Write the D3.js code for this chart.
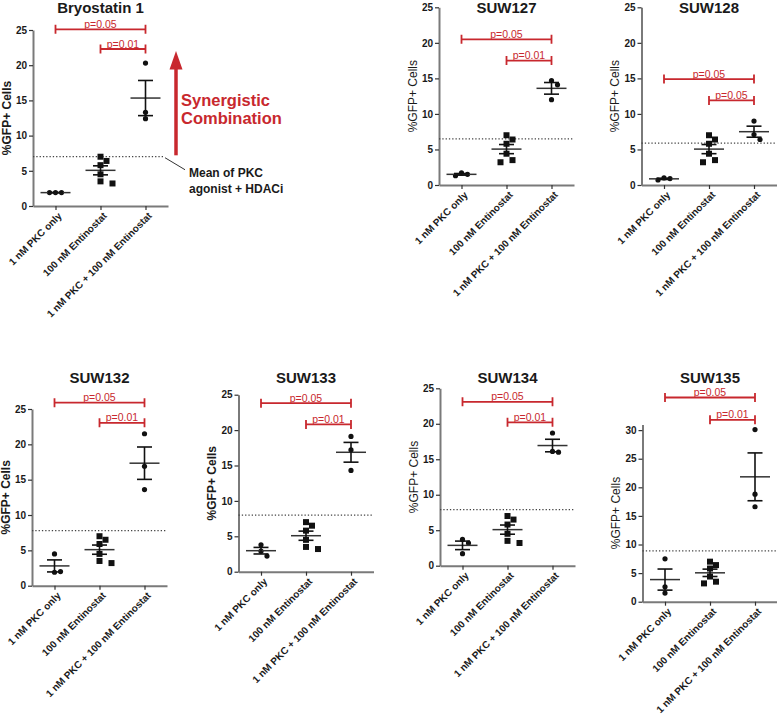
<!DOCTYPE html>
<html>
<head>
<meta charset="utf-8">
<script src="https://cdn.jsdelivr.net/npm/d3@7"></script>
<style>
  body { margin: 0; background: #fff; }
  svg { display: block; font-family: "Liberation Sans", Arial, sans-serif; }
</style>
</head>
<body>
<div id="chart"></div>
<script>
// ---- data ----
var panelNames = ["Bryostatin 1", "SUW127", "SUW128", "SUW132", "SUW133", "SUW134", "SUW135"];
var categories = ["1 nM PKC only", "100 nM Entinostat", "1 nM PKC + 100 nM Entinostat"];

var pkcOnly = [
    [1.9, 1.9, 1.9],
    [1.7, 1.5, 1.3],
    [1.0, 0.9, 0.7],
    [4.5, 1.9, 2.0],
    [3.8, 2.9, 2.2],
    [3.7, 3.2, 1.7],
    [7.5, 2.6, 1.5]
];
var entinostat = [
    [7.0, 6.4, 5.8, 4.5, 3.5, 3.2],
    [7.0, 6.4, 5.8, 4.4, 3.5, 3.2],
    [7.0, 6.4, 5.8, 4.4, 3.5, 3.2],
    [7.0, 6.5, 5.9, 4.5, 3.5, 3.2],
    [7.0, 6.5, 5.8, 4.5, 3.5, 3.2],
    [7.0, 6.5, 5.8, 4.5, 3.5, 3.2],
    [7.0, 6.4, 5.8, 4.4, 3.5, 3.2]
];
var combo = [
    [20.3, 13.3, 12.4],
    [14.7, 14.1, 12.0],
    [9.0, 7.1, 6.4],
    [21.5, 16.9, 13.6],
    [19.1, 17.2, 14.3],
    [18.7, 16.1, 16.0],
    [30.1, 18.8, 16.6]
];
var additiveMean = [7.0, 6.5, 5.9, 7.8, 8.0, 7.9, 8.9];
var pLabels = [
    ["p=0.05", "p=0.01"],
    ["p=0.05", "p=0.01"],
    ["p=0.05", "p=0.05"],
    ["p=0.05", "p=0.01"],
    ["p=0.05", "p=0.01"],
    ["p=0.05", "p=0.01"],
    ["p=0.05", "p=0.01"]
];
var yMax = [25, 25, 25, 25, 25, 25, 31];
var yTicks = [0, 5, 10, 15, 20, 25];
var yTicksWide = [0, 5, 10, 15, 20, 25, 30];

// ---- layout ----
var w = 777;
var h = 716;
var red = "#c8282e";
var plotW = 135;

// axis x, pixel of zero, pixel of top of axis
var frames = [
    {x: 33, bottom: 206, top: 30, titleY: 12.5},
    {x: 439, bottom: 185, top: 7.3, titleY: 12.5},
    {x: 641.5, bottom: 185, top: 7.3, titleY: 12.5},
    {x: 32, bottom: 585.7, top: 409, titleY: 382.5},
    {x: 238.5, bottom: 571.7, top: 394.7, titleY: 382.5},
    {x: 440, bottom: 565.7, top: 388.3, titleY: 382.5},
    {x: 642.5, bottom: 601.7, top: 424.4, titleY: 382.5}
];
// bracket heights, in data units
var bracketAt = [
    [25.1, 22.3], [20.5, 17.5], [14.9, 11.9], [25.9, 23.05],
    [23.8, 20.8], [23.1, 20.2], [35.7, 31.8]
];
var boldLabel = [true, false, false, true, true, false, false];

var svg = d3.select("#chart")
    .append("svg")
    .attr("width", w)
    .attr("height", h);

// spread points that would overlap, like a small beeswarm
function swarm(vals, y, minD, step) {
    var placed = [];
    return vals.map(function (v) {
        var py = y(v);
        var cands = [0];
        for (var j = 1; j < 10; j++) { cands.push(j * step, -j * step); }
        var off = 0;
        for (var k = 0; k < cands.length; k++) {
            var c = cands[k];
            var ok = placed.every(function (p) { return Math.hypot(p.x - c, p.y - py) >= minD; });
            if (ok) { off = c; break; }
        }
        placed.push({x: off, y: py});
        return off;
    });
}

panelNames.forEach(function (name, i) {
    var f = frames[i];
    var g = svg.append("g");

    var y = d3.scaleLinear().domain([0, yMax[i]]).range([f.bottom, f.top]);
    var x = d3.scalePoint().domain(categories).range([f.x, f.x + plotW]).padding(0.5);

    // y axis
    var yg = g.append("g")
        .attr("transform", "translate(" + f.x + ",0)")
        .call(d3.axisLeft(y).tickValues(i === 6 ? yTicksWide : yTicks).tickSize(4).tickSizeOuter(0).tickPadding(2));
    // x axis
    var xg = g.append("g")
        .attr("transform", "translate(0," + f.bottom + ")")
        .call(d3.axisBottom(x).tickSize(4).tickSizeOuter(0));

    [yg, xg].forEach(function (ax) {
        ax.select(".domain").attr("stroke", "#7a7a7a").attr("stroke-width", 2);
        ax.selectAll(".tick line").attr("stroke", "#333").attr("stroke-width", 1.2);
        ax.selectAll("text")
            .attr("fill", "#1a1a1a")
            .attr("font-size", "10px")
            .attr("font-weight", "bold")
            .attr("font-family", "'Liberation Sans', Arial, sans-serif");
    });
    xg.selectAll("text")
        .attr("x", 0)
        .attr("y", 0)
        .attr("dy", "0.35em")
        .attr("font-size", "10px")
        .attr("text-anchor", "end")
        .attr("transform", "translate(4,8) rotate(-45)");

    // title
    g.append("text")
        .text(name)
        .attr("x", f.x + plotW / 2)
        .attr("y", f.titleY)
        .attr("text-anchor", "middle")
        .attr("font-size", "15px")
        .attr("font-weight", "bold")
        .attr("fill", "#1a1a1a");

    // y label
    g.append("text")
        .text("%GFP+ Cells")
        .attr("transform", "translate(" + (f.x - 26.5) + "," + ((f.top + f.bottom) / 2) + ") rotate(-90)")
        .attr("dy", "0.35em")
        .attr("text-anchor", "middle")
        .attr("font-size", "12px")
        .attr("font-weight", boldLabel[i] ? "bold" : "normal")
        .attr("fill", "#1a1a1a");

    // dotted line: mean of PKC agonist + HDACi
    var lineEnd = i === 0 ? f.x + 131 : f.x + plotW;
    g.append("line")
        .attr("x1", f.x)
        .attr("x2", lineEnd)
        .attr("y1", y(additiveMean[i]))
        .attr("y2", y(additiveMean[i]))
        .attr("stroke", "#444")
        .attr("stroke-width", 1.2)
        .attr("stroke-dasharray", "1.3,2");

    // points + mean/SEM
    var groups = [pkcOnly[i], entinostat[i], combo[i]];
    groups.forEach(function (vals, gi) {
        var cx = x(categories[gi]);
        var m = d3.mean(vals);
        var sem = d3.deviation(vals) / Math.sqrt(vals.length);
        if (!sem) sem = 0;

        if (gi === 1) {
            var offs = swarm(vals, y, 6.5, 6);
            g.selectAll(null)
                .data(vals)
                .enter()
                .append("rect")
                .attr("x", function (d, k) { return cx + offs[k] - 3; })
                .attr("y", function (d) { return y(d) - 3; })
                .attr("width", 6)
                .attr("height", 6)
                .attr("fill", "#111");
        } else {
            var offs2 = swarm(vals, y, 5.5, 6);
            g.selectAll(null)
                .data(vals)
                .enter()
                .append("circle")
                .attr("cx", function (d, k) { return cx + offs2[k]; })
                .attr("cy", function (d) { return y(d); })
                .attr("r", 2.6)
                .attr("fill", "#111");
        }

        g.append("line")
            .attr("x1", cx - 15).attr("x2", cx + 15)
            .attr("y1", y(m)).attr("y2", y(m))
            .attr("stroke", "#333").attr("stroke-width", 1.5);
        g.append("line")
            .attr("x1", cx).attr("x2", cx)
            .attr("y1", y(m - sem)).attr("y2", y(m + sem))
            .attr("stroke", "#111").attr("stroke-width", 1.6);
        [m - sem, m + sem].forEach(function (v) {
            g.append("line")
                .attr("x1", cx - 7.5).attr("x2", cx + 7.5)
                .attr("y1", y(v)).attr("y2", y(v))
                .attr("stroke", "#111").attr("stroke-width", 1.6);
        });
    });

    // significance brackets
    [[0, 2], [1, 2]].forEach(function (pair, bi) {
        var x1 = x(categories[pair[0]]);
        var x2 = x(categories[pair[1]]);
        var by = y(bracketAt[i][bi]);
        g.append("path")
            .attr("d", "M" + x1 + "," + (by - 4.5) + "V" + (by + 4.5) +
                "M" + x1 + "," + by + "H" + x2 +
                "M" + x2 + "," + (by - 4.5) + "V" + (by + 4.5))
            .attr("fill", "none")
            .attr("stroke", red)
            .attr("stroke-width", 1.8);
        g.append("text")
            .text(pLabels[i][bi])
            .attr("x", (x1 + x2) / 2)
            .attr("y", by - 1.5)
            .attr("text-anchor", "middle")
            .attr("font-size", "10.5px")
            .attr("fill", red);
    });

    // annotations on the first panel
    if (i === 0) {
        var ax = f.x + 143;
        g.append("line")
            .attr("x1", lineEnd + 1).attr("y1", y(additiveMean[i]) + 1)
            .attr("x2", f.x + 152).attr("y2", y(additiveMean[i]) + 13)
            .attr("stroke", "#333").attr("stroke-width", 1);
        g.append("line")
            .attr("x1", ax).attr("x2", ax)
            .attr("y1", y(7.2)).attr("y2", y(19.5))
            .attr("stroke", red).attr("stroke-width", 3.5);
        g.append("path")
            .attr("d", "M" + (ax - 6.5) + "," + y(19.4) + "L" + ax + "," + y(22) + "L" + (ax + 6.5) + "," + y(19.4) + "Z")
            .attr("fill", red);
        g.append("text")
            .attr("x", f.x + 148)
            .attr("y", 106)
            .attr("font-size", "16.5px")
            .attr("font-weight", "bold")
            .attr("fill", red)
            .selectAll("tspan")
            .data(["Synergistic", "Combination"])
            .enter()
            .append("tspan")
            .attr("x", f.x + 148)
            .attr("dy", function (d, k) { return k === 0 ? 0 : 18; })
            .text(function (d) { return d; });
        g.append("text")
            .attr("x", f.x + 156)
            .attr("y", 177)
            .attr("font-size", "12px")
            .attr("font-weight", "bold")
            .attr("fill", "#1a1a1a")
            .selectAll("tspan")
            .data(["Mean of PKC", "agonist + HDACi"])
            .enter()
            .append("tspan")
            .attr("x", f.x + 156)
            .attr("dy", function (d, k) { return k === 0 ? 0 : 16; })
            .text(function (d) { return d; });
    }
});
</script>
</body>
</html>
